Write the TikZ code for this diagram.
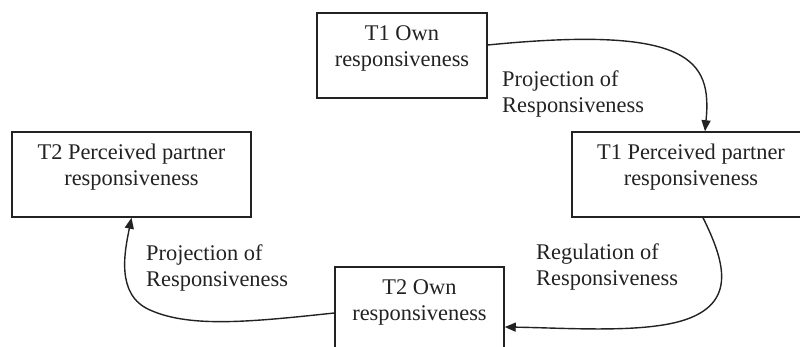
\documentclass[tikz,border=0pt]{standalone}
\usepackage{fontspec}
\setmainfont{Liberation Serif}
\usetikzlibrary{arrows.meta}
\definecolor{ink}{HTML}{222222}
\begin{document}
\begin{tikzpicture}[x=1pt,y=-1pt,
  box/.style={draw=ink,line width=1.5pt,minimum height=85pt,inner sep=0pt},
  txt/.style={align=center,inner sep=0pt,text=ink,font=\fontsize{22.4}{26}\selectfont},
  lbl/.style={align=left,inner sep=0pt,anchor=west,text=ink,font=\fontsize{22.4}{26}\selectfont},
  conn/.style={draw=ink,line width=1.4pt,-{Triangle[length=11pt,width=9pt]}}]
\useasboundingbox (0,0) rectangle (800,347);
\clip (0,0) rectangle (800,347);
% boxes
\node[box,minimum width=170pt] (own1) at (402,55.5) {};
\node[box,minimum width=238pt] (per1) at (691,174.5) {};
\node[box,minimum width=239pt] (per2) at (131.5,174.5) {};
\node[box,minimum width=169pt] (own2) at (419.5,309.5) {};
% box texts
\node[txt] (own1t) at (402,48.5) {T1 Own\\responsiveness};
\node[txt] (per1t) at (691,167.5) {T1 Perceived partner\\responsiveness};
\node[txt] (per2t) at (131.5,167) {T2 Perceived partner\\responsiveness};
\node[txt] (own2t) at (419.5,302.5) {T2 Own\\responsiveness};
% labels
\node[lbl] (l1) at (502,94.5) {Projection of\\Responsiveness};
\node[lbl] (l2) at (536,266.5) {Regulation of\\Responsiveness};
\node[lbl] (l3) at (146,267.5) {Projection of\\Responsiveness};
% connectors
\draw[conn] ([yshift=10.5pt]own1.east) .. controls (690,25) and (712,60) .. ([xshift=14pt]per1.north);
\draw[conn] ([xshift=12pt]per1.south) .. controls (725,262) and (735,300) .. (690,318)
  .. controls (650,334) and (570,328) .. ([yshift=-17.5pt]own2.east);
\draw[conn] ([yshift=-3.5pt]own2.west) .. controls (250,322) and (190,328) .. (150,310)
  .. controls (115,295) and (125,250) .. (per2.south);
\end{tikzpicture}
\end{document}
